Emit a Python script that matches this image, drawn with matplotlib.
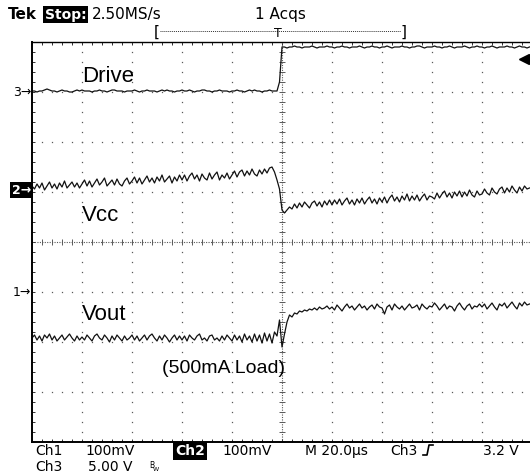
import numpy as np
import matplotlib
matplotlib.use("Agg")
import matplotlib.pyplot as plt
from matplotlib.lines import Line2D

time_us = np.arange(-100, 100, 1.0)          # 20 us/div, trigger at centre

# Ch3 "Drive" (V, relative to its ground marker), 5 V/div
drive_v = [
    0, 0, -0.1, 0, 0, 0.1, 0.2, 0.1, 0, 0, -0.1, 0, 0.1, 0, 0, -0.1, -0.1, 0, 0.1, 0,
    0.1, 0, 0, 0, -0.1, 0, 0, 0.1, 0, 0, -0.1, 0, 0.1, 0.1, 0, 0, 0, -0.1, 0, 0,
    0, 0.1, 0, -0.1, 0, 0, 0.1, 0, 0, 0, -0.1, 0, 0.1, 0, 0.1, 0, 0, -0.1, 0, 0,
    0.1, 0, 0, 0.1, 0, -0.1, 0, 0, 0.1, 0.1, 0, 0, -0.1, 0, 0, 0.1, 0, 0, 0, -0.1,
    0, 0, 0.1, 0, 0, -0.1, 0, 0.1, 0, 0.1, 0, 0, -0.1, 0, 0, 0.1, 0, 0, 0, 0.9,
    4.4, 4.4, 4.3, 4.4, 4.4, 4.5, 4.4, 4.4, 4.3, 4.4, 4.4, 4.4, 4.5, 4.4, 4.3, 4.4, 4.4, 4.4, 4.5, 4.4,
    4.4, 4.3, 4.4, 4.4, 4.5, 4.4, 4.4, 4.3, 4.4, 4.4, 4.4, 4.5, 4.4, 4.3, 4.4, 4.4, 4.5, 4.4, 4.4, 4.3,
    4.4, 4.4, 4.5, 4.4, 4.3, 4.4, 4.4, 4.4, 4.5, 4.4, 4.4, 4.3, 4.4, 4.4, 4.5, 4.5, 4.4, 4.3, 4.4, 4.4,
    4.4, 4.5, 4.4, 4.4, 4.3, 4.4, 4.4, 4.5, 4.4, 4.3, 4.4, 4.4, 4.4, 4.5, 4.4, 4.3, 4.4, 4.4, 4.5, 4.4,
    4.4, 4.3, 4.4, 4.4, 4.5, 4.4, 4.3, 4.4, 4.4, 4.4, 4.5, 4.4, 4.4, 4.3, 4.4, 4.5, 4.4, 4.4, 4.3, 4.4,
]

# Ch2 "Vcc" (mV, relative to its marker), 100 mV/div
vcc_mv = [
    8, 2, 12, 4, 14, 0, 8, 16, 4, 12, 2, 14, 6, 18, 4, 10, 16, 6, 14, 4,
    12, 20, 8, 18, 6, 14, 22, 10, 16, 24, 8, 14, 20, 10, 22, 12, 8, 18, 24, 12,
    18, 26, 14, 24, 12, 20, 28, 16, 24, 14, 26, 18, 30, 16, 22, 28, 14, 26, 18, 30,
    20, 30, 18, 28, 34, 22, 30, 18, 32, 24, 20, 34, 22, 30, 36, 20, 30, 24, 34, 22,
    30, 38, 26, 36, 40, 28, 38, 30, 42, 32, 28, 40, 32, 42, 34, 44, 46, 36, 20, 2,
    -40, -46, -40, -34, -38, -28, -36, -26, -34, -24, -30, -36, -26, -22, -32, -24, -34, -22, -30, -20,
    -30, -20, -28, -18, -30, -22, -16, -28, -20, -30, -18, -26, -16, -28, -20, -14, -26, -18, -28, -16,
    -24, -14, -26, -16, -10, -22, -14, -24, -12, -20, -8, -22, -12, -20, -10, -22, -14, -8, -20, -12,
    -14, -18, -6, -16, -8, -2, -14, -6, -16, -4, -12, -2, -14, -4, -12, 0, -10, -14, -2, -10,
    -8, 2, -6, -10, 4, -4, -8, 2, 6, -6, 4, -4, 8, 0, -6, 6, -2, 8, 2, 4,
]

# Ch1 "Vout" (mV, relative to its marker), 100 mV/div
vout_mv = [
    -92, -86, -96, -88, -98, -86, -92, -84, -96, -88, -98, -92, -86, -96, -90, -84, -92, -98, -88, -96,
    -90, -96, -86, -92, -98, -88, -84, -92, -96, -86, -92, -100, -88, -96, -86, -92, -98, -88, -96, -92,
    -86, -96, -88, -98, -92, -86, -96, -88, -84, -92, -98, -88, -96, -86, -92, -100, -92, -86, -96, -88,
    -96, -88, -98, -86, -92, -96, -88, -84, -96, -92, -98, -88, -86, -96, -92, -98, -88, -96, -86, -92,
    -98, -86, -96, -88, -100, -84, -96, -88, -100, -84, -98, -86, -102, -82, -98, -84, -102, -80, -88, -56,
    -110, -84, -60, -46, -50, -42, -44, -38, -40, -36, -38, -34, -36, -32, -36, -30, -34, -32, -28, -34,
    -30, -36, -26, -32, -38, -30, -24, -32, -28, -36, -30, -24, -32, -28, -36, -30, -26, -34, -24, -30,
    -32, -44, -30, -26, -36, -24, -30, -34, -28, -36, -30, -24, -32, -30, -26, -36, -24, -30, -34, -28,
    -30, -22, -28, -36, -30, -24, -34, -28, -30, -38, -28, -22, -30, -36, -28, -24, -34, -28, -30, -24,
    -30, -24, -34, -28, -22, -30, -36, -24, -28, -22, -32, -26, -20, -28, -34, -22, -28, -20, -26, -24,
]

ch3_volts_per_div = 5.0
ch2_mv_per_div = 100.0
ch1_mv_per_div = 100.0
trigger_level_v = 3.2

# channel ground-marker positions (divisions from screen centre)
ch3_pos, ch2_pos, ch1_pos = 3.02, 1.04, -1.0

# ---------------- figure ----------------
W, H = 530, 473
fig = plt.figure(figsize=(W / 100, H / 100), dpi=100)
fig.patch.set_facecolor("white")
ax = fig.add_axes([32 / W, 31 / H, 500 / W, 400 / H])
ax.set_xlim(-100, 100)
ax.set_ylim(-4, 4)
ax.set_facecolor("white")

for s in ["left", "bottom", "top"]:
    ax.spines[s].set_linewidth(1.4)
    ax.spines[s].set_color("black")
ax.spines["top"].set_linewidth(1.0)
ax.spines["right"].set_visible(False)

ax.set_xticks(np.arange(-100, 101, 4))
ax.set_yticks(np.arange(-4, 4.01, 0.2))
ax.tick_params(direction="in", length=2.2, width=0.7, top=True, bottom=True,
               left=True, right=False, labelbottom=False, labelleft=False,
               colors="0.2")

# graticule dots
gx_minor = np.arange(-100, 101, 4)
gy_minor = np.arange(-4, 4.01, 0.2)
dot_kw = dict(ls="none", marker="s", ms=0.9, color="0.35", mew=0)
for gx in [-80, -60, -40, -20, 20, 40, 60, 80]:
    ax.plot(np.full_like(gy_minor, gx), gy_minor, **dot_kw)
for gy in [-3, -2, -1, 1, 2, 3]:
    ax.plot(gx_minor, np.full_like(gx_minor, gy, dtype=float), **dot_kw)
# centre crosshair
ax.axhline(0, ls=(0, (1, 1.2)), lw=0.8, color="0.35")
ax.axvline(0, ls=(0, (1, 1.2)), lw=0.8, color="0.35")
ax.plot(gx_minor, np.zeros_like(gx_minor, dtype=float), ls="none", marker="|",
        ms=4, mew=0.7, color="0.35")
ax.plot(np.zeros_like(gy_minor), gy_minor, ls="none", marker="_",
        ms=4, mew=0.7, color="0.35")

# traces
t = time_us
ax.plot(t, ch3_pos + np.array(drive_v) / ch3_volts_per_div, color="#111", lw=0.9)
ax.plot(t, ch2_pos + np.array(vcc_mv) / ch2_mv_per_div, color="#111", lw=0.9)
ax.plot(t, ch1_pos + np.array(vout_mv) / ch1_mv_per_div, color="#111", lw=0.9)

# trigger level arrow (right edge)
trig_y = ch3_pos + trigger_level_v / ch3_volts_per_div
ax.plot([96.8], [trig_y], marker="<", ms=7, color="black", clip_on=False)
ax.plot([97.5, 100], [trig_y, trig_y], color="black", lw=1.2, clip_on=False)


def ftext(x, y, s, **kw):
    return fig.text(x / W, 1 - y / H, s, **kw)


mono = "DejaVu Sans"
lab = "Liberation Sans"
inv = dict(boxstyle="square,pad=0.12", fc="black", ec="none")

# top status line
ftext(8, 19, "Tek", fontsize=11, family=mono, fontweight="bold", va="baseline")
ftext(45, 18.5, "Stop:", fontsize=10, family=mono, fontweight="bold", color="white",
      va="baseline", bbox=inv)
ftext(92, 19, "2.50MS/s", fontsize=11, family=mono, va="baseline")
ftext(255, 19, "1 Acqs", fontsize=11, family=mono, va="baseline")
ftext(154, 37, "[", fontsize=11, family=mono, va="baseline")
ftext(401, 37, "]", fontsize=11, family=mono, va="baseline")
fig.add_artist(Line2D([160 / W, 401 / W], [1 - 31 / H, 1 - 31 / H], transform=fig.transFigure,
                      ls=(0, (1, 1)), lw=0.7, color="0.2"))
ftext(278, 37, "T", fontsize=9, family=mono, ha="center", va="baseline")

# channel markers
ftext(31, 92, "3\u2192", fontsize=9, family=mono, ha="right", va="center")
ftext(31, 190, "2\u2192", fontsize=9, family=mono, fontweight="bold", color="white",
      ha="right", va="center", bbox=inv)
ftext(31, 292, "1\u2192", fontsize=9, family=mono, ha="right", va="center")

# on-screen labels
ftext(82, 82, "Drive", fontsize=16, family=lab, va="baseline")
ftext(82, 221, "Vcc", fontsize=16, family=lab, va="baseline")
ftext(82, 320, "Vout", fontsize=16, family=lab, va="baseline")
ftext(162, 373, "(500mA Load)", fontsize=14, family=lab, va="baseline")

# bottom status lines
ftext(35, 455, "Ch1", fontsize=10, family=mono, va="baseline")
ftext(85, 455, "100mV", fontsize=10, family=mono, va="baseline")
ftext(175, 455, "Ch2", fontsize=10, family=mono, fontweight="bold", color="white",
      va="baseline", bbox=inv)
ftext(222, 455, "100mV", fontsize=10, family=mono, va="baseline")
ftext(305, 455, "M 20.0\u00b5s", fontsize=10, family=mono, va="baseline")
ftext(390, 455, "Ch3", fontsize=10, family=mono, va="baseline")
fig.add_artist(Line2D([423 / W, 427 / W, 429 / W, 433 / W],
                      [1 - 455 / H, 1 - 455 / H, 1 - 445 / H, 1 - 445 / H],
                      transform=fig.transFigure, lw=1.2, color="black"))
ftext(519, 455, "3.2 V", fontsize=10, family=mono, ha="right", va="baseline")
ftext(35, 471, "Ch3", fontsize=10, family=mono, va="baseline")
ftext(88, 471, "5.00 V", fontsize=10, family=mono, va="baseline")
ftext(149, 468, "B", fontsize=5.5, family=mono, va="baseline")
ftext(153, 471, "W", fontsize=4.5, family=mono, va="baseline")

fig.savefig("out.png", dpi=100, facecolor="white")
